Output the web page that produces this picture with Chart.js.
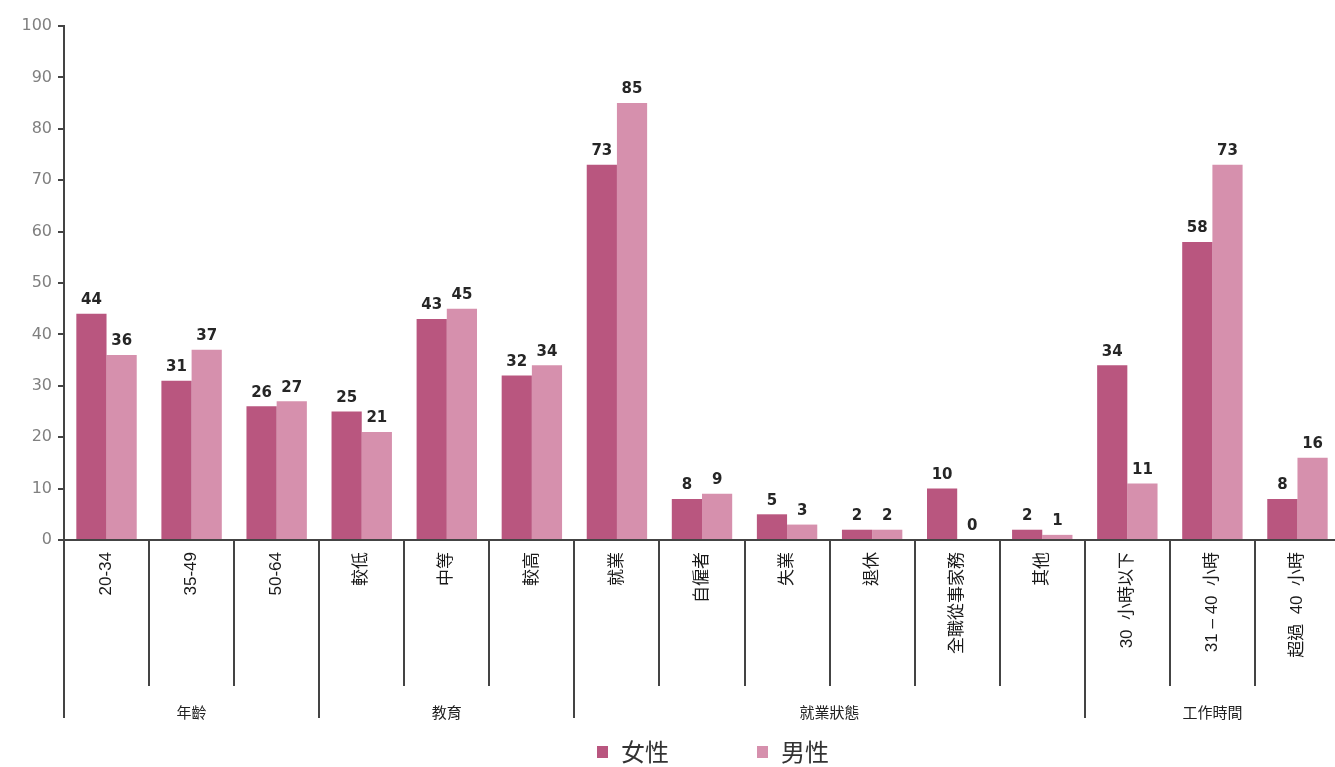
<!DOCTYPE html>
<html>
<head>
<meta charset="utf-8">
<script src="https://cdn.jsdelivr.net/npm/chart.js@4/dist/chart.umd.min.js"></script>
<style>
  html, body { margin: 0; padding: 0; background: #fff; overflow: hidden; }
  #wrap { width: 1340px; height: 767px; position: relative; }
</style>
</head>
<body>
<div id="wrap"><canvas id="chart"></canvas></div>
<script>
// Data
const categories = ['20-34', '35-49', '50-64', '較低', '中等', '較高', '就業', '自僱者', '失業', '退休', '全職從事家務', '其他', '30  小時以下', '31 – 40  小時', '超過  40  小時'];
const female = [44, 31, 26, 25, 43, 32, 73, 8, 5, 2, 10, 2, 34, 58, 8];
const male = [36, 37, 27, 21, 45, 34, 85, 9, 3, 2, 0, 1, 11, 73, 16];
const groupNames = ['年齡', '教育', '就業狀態', '工作時間'];
const groupSizes = [3, 3, 6, 3];
const yTicks = [0, 10, 20, 30, 40, 50, 60, 70, 80, 90, 100];

const femaleColor = '#b9567f';
const maleColor = '#d690ad';
const latin = '"Liberation Sans", "Noto Sans CJK TC", sans-serif';

// Draws value labels, category dividers, group names and legend
const decorations = {
    id: 'decorations',
    afterDatasetsDraw(chart) {
        const c = chart.ctx;
        c.save();
        c.font = 'bold 15px "DejaVu Sans", sans-serif';
        c.fillStyle = '#262626';
        c.textAlign = 'center';
        c.textBaseline = 'bottom';
        chart.data.datasets.forEach((ds, di) => {
            chart.getDatasetMeta(di).data.forEach((bar, i) => {
                c.fillText(String(ds.data[i]), bar.x, bar.y - 6);
            });
        });
        c.restore();
    },
    afterDraw(chart) {
        const c = chart.ctx;
        const x = chart.scales.x;
        const base = chart.chartArea.bottom;
        const half = (x.getPixelForValue(1) - x.getPixelForValue(0)) / 2;
        c.save();
        c.strokeStyle = '#444';
        c.lineWidth = 2;
        // group boundary indexes
        const starts = [];
        let k = 0;
        groupSizes.forEach(n => { starts.push(k); k += n; });
        for (let i = 0; i < categories.length; i++) {
            const px = Math.round(x.getPixelForValue(i) - half);
            const longLine = starts.includes(i);
            c.beginPath();
            c.moveTo(px, base);
            c.lineTo(px, longLine ? base + 178 : base + 146);
            c.stroke();
        }
        // group names
        c.fillStyle = '#222';
        c.font = '15px "Noto Sans CJK TC", sans-serif';
        c.textAlign = 'center';
        c.textBaseline = 'middle';
        starts.forEach((s, g) => {
            const x0 = x.getPixelForValue(s) - half;
            const x1 = x.getPixelForValue(s + groupSizes[g] - 1) + half;
            c.fillText(groupNames[g], (x0 + x1) / 2, base + 172);
        });
        // legend
        const items = chart.data.datasets;
        const lx = [597, 757];
        c.font = '24px "Noto Sans CJK TC", sans-serif';
        c.textAlign = 'left';
        items.forEach((ds, i) => {
            c.fillStyle = ds.backgroundColor;
            c.fillRect(lx[i], 746, 11, 12);
            c.fillStyle = '#333';
            c.fillText(ds.label, lx[i] + 24, 752);
        });
        c.restore();
    }
};

const ctx = document.getElementById('chart').getContext('2d');
const chart = new Chart(ctx, {
    type: 'bar',
    data: {
        labels: categories,
        datasets: [
            { label: '女性', data: female, backgroundColor: femaleColor, categoryPercentage: 0.71, barPercentage: 1.0 },
            { label: '男性', data: male, backgroundColor: maleColor, categoryPercentage: 0.71, barPercentage: 1.0 }
        ]
    },
    options: {
        responsive: true,
        maintainAspectRatio: false,
        animation: false,
        layout: { padding: { top: 26, right: 0, bottom: 40, left: 0 } },
        plugins: {
            legend: { display: false },
            tooltip: { enabled: false }
        },
        scales: {
            x: {
                grid: { display: false },
                border: { display: true, color: '#444', width: 2 },
                ticks: {
                    autoSkip: false,
                    minRotation: 90,
                    maxRotation: 90,
                    padding: 4,
                    color: '#1a1a1a',
                    font: { family: latin, size: 17 }
                },
                afterFit(s) { s.height = 187; }
            },
            y: {
                min: 0,
                max: 100,
                afterBuildTicks(s) { s.ticks = yTicks.map(v => ({ value: v })); },
                grid: { drawOnChartArea: false, drawTicks: true, tickLength: 6, color: '#444', lineWidth: 2 },
                border: { color: '#444', width: 2 },
                ticks: {
                    padding: 6,
                    color: '#808080',
                    font: { family: '"DejaVu Sans", sans-serif', size: 16 }
                },
                afterFit(s) { s.width = 64; }
            }
        }
    },
    plugins: [decorations]
});
</script>
</body>
</html>
